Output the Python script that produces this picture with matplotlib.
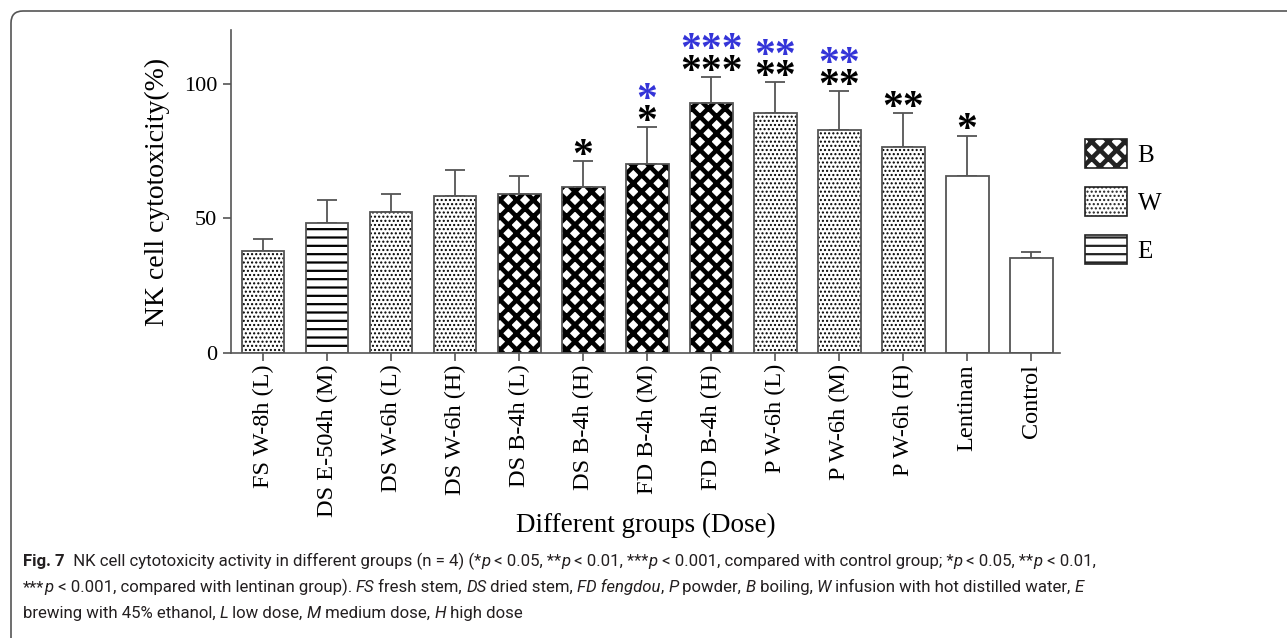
import matplotlib
matplotlib.use("Agg")
import matplotlib.pyplot as plt
import numpy as np
from matplotlib.patches import Patch, Rectangle, FancyBboxPatch
from matplotlib.legend_handler import HandlerPatch
from matplotlib.transforms import IdentityTransform

# data
groups = ["FS W-8h (L)", "DS E-504h (M)", "DS W-6h (L)", "DS W-6h (H)", "DS B-4h (L)",
          "DS B-4h (H)", "FD B-4h (M)", "FD B-4h (H)", "P W-6h (L)", "P W-6h (M)",
          "P W-6h (H)", "Lentinan", "Control"]
means = [37.9, 48.3, 52.2, 58.5, 59.0, 61.8, 70.3, 92.8, 89.3, 82.8, 76.6, 65.9, 35.4]
sd = [4.5, 8.7, 7.0, 9.5, 6.8, 9.7, 13.7, 9.9, 11.2, 14.6, 12.5, 14.9, 2.3]
method = ["W", "E", "W", "W", "B", "B", "B", "B", "W", "W", "W", "", ""]
stars_ctrl = [0, 0, 0, 0, 0, 1, 1, 3, 2, 2, 2, 1, 0]
stars_lent = [0, 0, 0, 0, 0, 0, 1, 3, 2, 2, 0, 0, 0]
legend_keys = ["B", "W", "E"]

hatches = {"B": "xx", "W": "....", "E": "--", "": ""}
hatch_lw = {"B": 3.3, "W": 1.0, "E": 1.6, "": 1.0}

plt.rcParams["font.family"] = ["Liberation Serif", "DejaVu Serif"]
edge = "#555555"

fig = plt.figure(figsize=(12.87, 6.38), dpi=100)
ax = fig.add_axes([231 / 1287, 1 - 353 / 638, 829 / 1287, 323 / 638])

x = np.arange(len(groups))
ax.errorbar(x, means, yerr=[np.zeros(len(sd)), sd], fmt="none", ecolor=edge,
            elinewidth=1.3, capsize=7.5, capthick=1.3, zorder=1)


def hatched_patch(key, maker):
    # hatch colour follows the edge colour, so the fill is drawn in black
    with plt.rc_context({"hatch.linewidth": hatch_lw[key]}):
        p = maker()
        p.set_hatch(hatches[key])
        if hasattr(p, "set_hatch_linewidth"):
            p.set_hatch_linewidth(hatch_lw[key])
    return p


for xi, h, key in zip(x, means, method):
    hatched_patch(key, lambda: ax.bar(xi, h, width=0.67, facecolor="white",
                                      edgecolor="black", linewidth=0, zorder=2)[0])
    ax.bar(xi, h, width=0.67, facecolor="none", edgecolor=edge, linewidth=1.3, zorder=3)

for xi, m, s, nc, nl in zip(x, means, sd, stars_ctrl, stars_lent):
    if nc:
        ax.annotate("*" * nc, (xi, m + s), xytext=(0, -4.3), textcoords="offset points",
                    ha="center", va="baseline", fontsize=30, fontweight="bold", color="black")
    if nl:
        ax.annotate("*" * nl, (xi, m + s), xytext=(0, 11.5), textcoords="offset points",
                    ha="center", va="baseline", fontsize=30, fontweight="bold", color="#3434d8")

ax.set_xlim(-0.5, 12.45)
ax.set_ylim(0, 120)
ax.set_yticks([0, 50, 100])
ax.set_xticks(x)
ax.set_xticklabels(groups, rotation=90, fontsize=17.5)
ax.tick_params(axis="y", labelsize=16, length=6, width=1.2, color=edge, pad=4)
ax.tick_params(axis="x", length=6, width=1.2, color=edge, pad=2)
for sp in ["top", "right"]:
    ax.spines[sp].set_visible(False)
for sp in ["left", "bottom"]:
    ax.spines[sp].set_color(edge)
    ax.spines[sp].set_linewidth(1.2)
ax.set_ylabel("NK cell cytotoxicity(%)", fontsize=20, labelpad=10)
ax.set_xlabel("Different groups (Dose)", fontsize=19.5)
ax.xaxis.set_label_coords(0.5, -0.495)


# legend: build the key boxes with their own hatch line widths
class HatchHandler(HandlerPatch):
    def create_artists(self, legend, orig_handle, xdescent, ydescent, width, height,
                       fontsize, trans):
        key = orig_handle.get_label()
        r = hatched_patch(key, lambda: Rectangle((-xdescent, -ydescent), width, height,
                                                 facecolor="white", edgecolor="#222222",
                                                 linewidth=1.2))
        r.set_transform(trans)
        return [r]


handles = [Patch(facecolor="white", edgecolor="#222222", label=k) for k in legend_keys]
fig.legend(handles=handles, loc="upper left", bbox_to_anchor=(1085 / 1287, 1 - 139 / 638),
           frameon=False, fontsize=18, handlelength=1.68, handleheight=1.4,
           handletextpad=0.42, labelspacing=0.76, borderpad=0, borderaxespad=0,
           handler_map={Patch: HatchHandler()})

# border around figure and caption
border = FancyBboxPatch((11, -20), 1300, 638 - 11 + 20, transform=IdentityTransform(),
                        boxstyle="round,pad=0,rounding_size=12", facecolor="none",
                        edgecolor=edge, linewidth=1.2)
fig.add_artist(border)

cap_font = ["Roboto", "DejaVu Sans"]
cap_col = "#231f20"
renderer = fig.canvas.get_renderer()


def write_line(y_px, parts, size, x_px=23, draw=True):
    xp = x_px
    made = []
    for s, style in parts:
        t = fig.text(xp / 1287, 1 - y_px / 638, s, fontsize=size, color=cap_col,
                     family=cap_font, va="baseline",
                     fontweight="bold" if style == "b" else "normal",
                     fontstyle="italic" if style == "i" else "normal")
        xp += t.get_window_extent(renderer).width
        made.append(t)
    if not draw:
        for t in made:
            t.remove()
    return xp - x_px


line1 = [("Fig. 7", "b"), ("  NK cell cytotoxicity activity in different groups (n = 4) (*", ""),
         ("p", "i"), (" < 0.05, **", ""), ("p", "i"), (" < 0.01, ***", ""), ("p", "i"),
         (" < 0.001, compared with control group; *", ""), ("p", "i"), (" < 0.05, **", ""),
         ("p", "i"), (" < 0.01,", "")]
line2 = [("***", ""), ("p", "i"), (" < 0.001, compared with lentinan group). ", ""),
         ("FS", "i"), (" fresh stem, ", ""), ("DS", "i"), (" dried stem, ", ""),
         ("FD fengdou", "i"), (", ", ""), ("P", "i"), (" powder, ", ""), ("B", "i"),
         (" boiling, ", ""), ("W", "i"), (" infusion with hot distilled water, ", ""), ("E", "i")]
line3 = [("brewing with 45% ethanol, ", ""), ("L", "i"), (" low dose, ", ""), ("M", "i"),
         (" medium dose, ", ""), ("H", "i"), (" high dose", "")]

# pick the caption size so that the first line ends where it does in the source
w = write_line(567, line1, 12, draw=False)
cap_size = 12 * 1067 / w
write_line(566, line1, cap_size)
write_line(592, line2, cap_size)
write_line(618, line3, cap_size)

fig.savefig("out.png", dpi=100)
